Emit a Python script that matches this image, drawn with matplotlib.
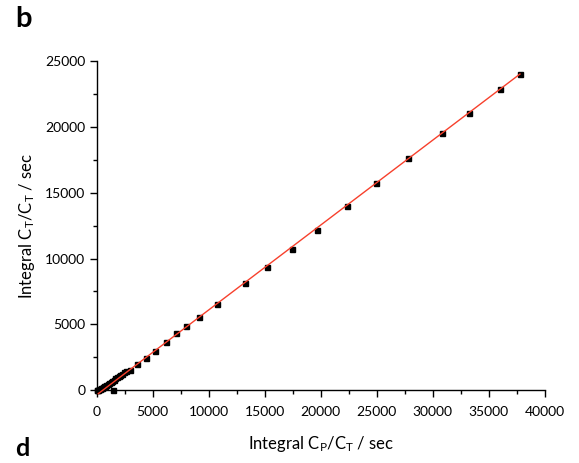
import matplotlib
matplotlib.use("Agg")
import matplotlib.pyplot as plt
from matplotlib.ticker import MultipleLocator

plt.rcParams['font.family'] = ['Lato', 'DejaVu Sans']
plt.rcParams['mathtext.fontset'] = 'custom'
plt.rcParams['mathtext.rm'] = 'Lato'
plt.rcParams['mathtext.it'] = 'Lato:italic'

# Data (Integral Cp/Ct vs Integral Ct/Ct, seconds)
x_vals = [0, 60, 130, 200, 280, 370, 460, 560, 660, 770, 880, 1000, 1120, 1250,
          1380, 1520, 1660, 1810, 1960, 2120, 2280, 2450, 2620, 1490,
          2980, 3630, 4380, 5210, 6170, 7090, 8020, 9110, 10770, 13250,
          15180, 17410, 19650, 22340, 24930, 27800, 30840, 33270, 36050, 37790]
y_vals = [0, 20, 60, 90, 120, 150, 190, 230, 290, 350, 420, 500, 570, 650,
          730, 810, 900, 990, 1080, 1170, 1260, 1360, 1450, 0,
          1540, 1995, 2474, 3005, 3641, 4324, 4879, 5560, 6548, 8118,
          9332, 10721, 12162, 14020, 15729, 17595, 19514, 21032, 22822, 23998]

# Linear fit line
fit_slope = 0.6442
fit_intercept = -350.0
fit_x = [150, 37790]
fit_y = [fit_slope * v + fit_intercept for v in fit_x]

x_label = 'Integral C$_\\mathrm{P}$/C$_\\mathrm{T}$ / sec'
y_label = 'Integral C$_\\mathrm{T}$/C$_\\mathrm{T}$ / sec'

fig = plt.figure(figsize=(5.79, 4.63), dpi=100)
ax = fig.add_axes([0.1668, 0.157, 0.774, 0.7117])

ax.plot(x_vals, y_vals, linestyle='none', marker='s', markersize=3.6,
        color='black', clip_on=False, zorder=3)
ax.plot(fit_x, fit_y, color='#f7402c', linewidth=1.0, clip_on=False, zorder=4)

ax.set_xlim(0, 40000)
ax.set_ylim(0, 25000)
ax.xaxis.set_major_locator(MultipleLocator(5000))
ax.xaxis.set_minor_locator(MultipleLocator(2500))
ax.yaxis.set_major_locator(MultipleLocator(5000))
ax.yaxis.set_minor_locator(MultipleLocator(2500))

for s in ['top', 'right']:
    ax.spines[s].set_visible(False)
for s in ['left', 'bottom']:
    ax.spines[s].set_linewidth(1.0)

ax.tick_params(which='major', direction='out', length=5, width=1.0, labelsize=10, pad=3)
ax.tick_params(axis='x', which='major', pad=6)
ax.tick_params(which='minor', direction='out', length=3, width=1.0)

ax.set_xlabel(x_label, fontsize=12, labelpad=12)
ax.set_ylabel(y_label, fontsize=12, labelpad=6)

fig.text(0.026, 0.986, 'b', fontsize=21, fontweight='bold', va='top', ha='left')
fig.text(0.026, 0.016, 'd', fontsize=18, fontweight='bold', va='baseline', ha='left')

fig.savefig('out.png', dpi=100)
